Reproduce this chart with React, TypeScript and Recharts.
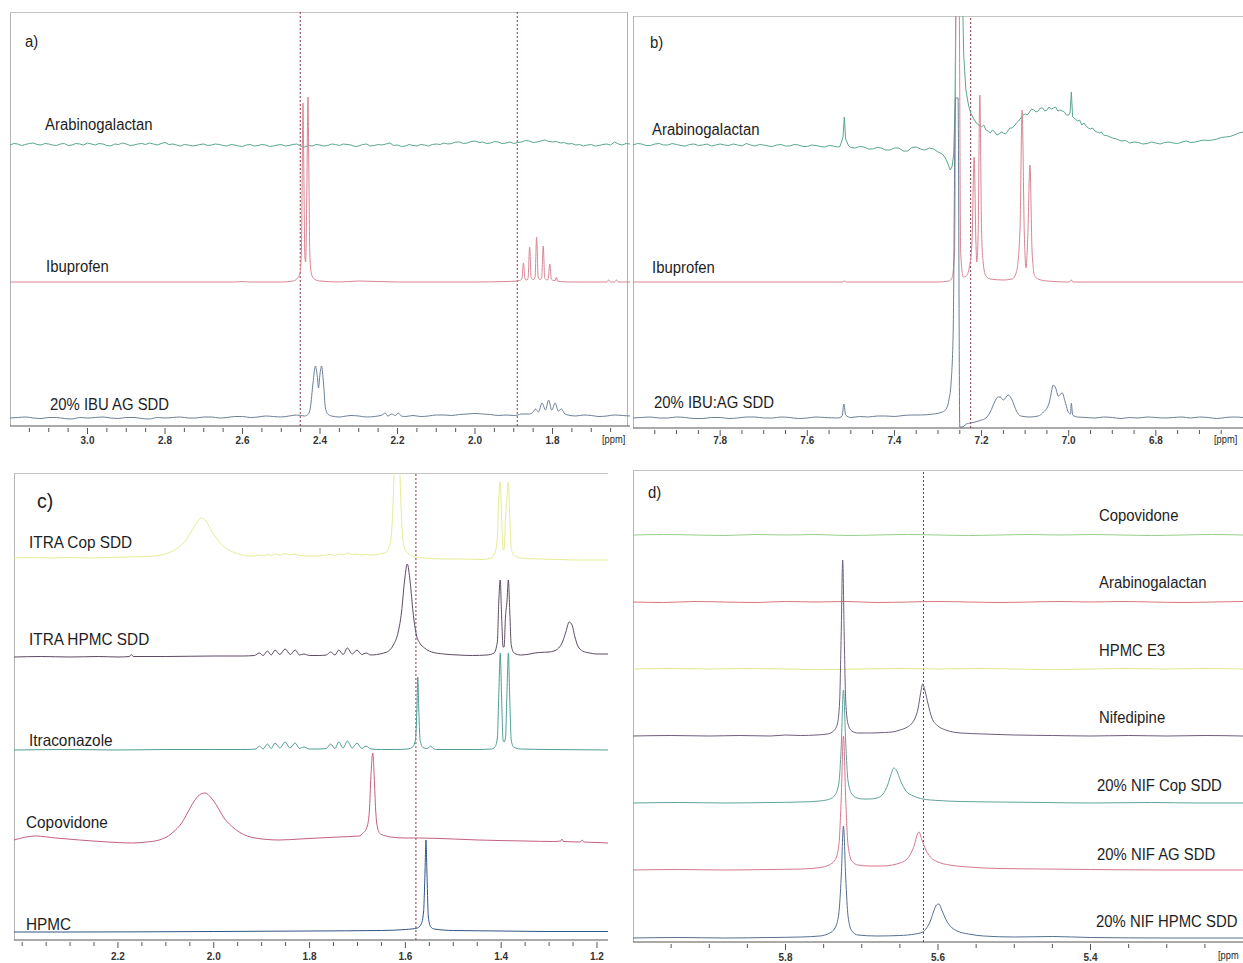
import React from "react";
import { LineChart, Line, XAxis, YAxis, ReferenceLine } from "recharts";

type Pt = [number, number]; // [ppm, intensity above the trace's own baseline]

// ---------- a) 3.2 - 1.6 ppm ----------
const A_MAJOR = [3.0, 2.8, 2.6, 2.4, 2.2, 2.0, 1.8];
const A_DASHED = [2.451, 1.891];
const A_NAMES = ["Arabinogalactan", "Ibuprofen", "20% IBU AG SDD"];
const A_OFFSETS = [281, 144, 8];
const A_AG: Pt[] = [
  [3.2, 0], [3.19, 1.5], [3.18, 1], [3.17, -0.5], [3.16, 0.5], [3.15, 1.5], [3.14, 2], [3.13, 0.5], [3.12, 0], [3.11, 1.5],
  [3.1, 1], [3.09, 0], [3.08, -0.5], [3.07, 1], [3.06, 1.5], [3.05, -0.5], [3.04, 0], [3.03, 1.5], [3.02, 1], [3.01, 0],
  [3.0, 2], [2.99, 1], [2.98, 0], [2.97, 1.5], [2.96, 1], [2.95, -0.5], [2.94, -1], [2.93, 1], [2.92, 0.5], [2.91, 2],
  [2.9, 1], [2.89, -0.5], [2.88, 0], [2.87, 1], [2.86, 1.5], [2.85, 0.5], [2.84, 2], [2.83, 1], [2.82, 0], [2.81, 1.5],
  [2.8, 2.5], [2.79, 0.5], [2.78, 1], [2.77, 0], [2.76, -1], [2.75, 0.5], [2.74, 0], [2.73, -1], [2.72, -0.5], [2.71, 0.5],
  [2.7, 1], [2.69, -0.5], [2.68, 0], [2.67, 1], [2.66, 0.5], [2.65, -0.5], [2.64, -1], [2.63, 0.5], [2.62, 0], [2.61, -1],
  [2.6, -1.5], [2.59, 0], [2.58, 0.5], [2.57, -1], [2.56, -0.5], [2.55, 0.5], [2.54, 0], [2.53, -1.5], [2.52, -1], [2.51, 0],
  [2.5, 0.5], [2.49, -1], [2.48, -0.5], [2.47, 0.5], [2.46, 1], [2.45, -1], [2.44, -2], [2.43, -0.5], [2.42, -1], [2.41, 0.5],
  [2.4, 0], [2.39, -1], [2.38, -0.5], [2.37, 1], [2.36, 0.5], [2.35, -0.5], [2.34, 1], [2.33, 0.5], [2.32, 0], [2.31, -1.5],
  [2.3, -1], [2.29, 0.5], [2.28, 1], [2.27, -1], [2.26, -0.5], [2.25, 0.5], [2.24, 0], [2.23, 1], [2.22, 2], [2.21, -0.5],
  [2.2, 0], [2.19, -1.5], [2.18, -1], [2.17, 0.5], [2.16, -0.5], [2.15, -1], [2.14, 0.5], [2.13, 0], [2.12, -1], [2.11, 0.5],
  [2.1, 1], [2.09, 0.5], [2.08, 2], [2.07, 1], [2.06, 1.5], [2.05, 3], [2.04, 3], [2.03, 1.5], [2.02, 2], [2.01, 3.5],
  [2.0, 4], [1.99, 2.5], [1.98, 3], [1.97, 1.5], [1.96, 2], [1.95, 3.5], [1.94, 3], [1.93, 1.5], [1.92, 2], [1.91, 3],
  [1.9, 1.5], [1.89, 2.5], [1.88, 3], [1.87, 4.5], [1.86, 4], [1.85, 2.5], [1.84, 3], [1.83, 4], [1.82, 5], [1.81, 3.5],
  [1.8, 3], [1.79, 3.5], [1.78, 2], [1.77, 2.5], [1.76, 1], [1.75, 1.5], [1.74, 0], [1.73, 0.5], [1.72, -1], [1.71, 0],
  [1.7, 0.5], [1.69, -1], [1.68, -0.5], [1.67, 0.5], [1.66, 1], [1.65, 0], [1.64, 3], [1.63, 1], [1.62, 0], [1.61, 1.5], [1.6, 1],
];
const A_IBU: Pt[] = [
  [3.2, 0], [2.62, 0], [2.6, 0.5], [2.58, 0], [2.5, 0], [2.47, 1], [2.46, 3], [2.452, 8], [2.448, 30], [2.445, 150],
  [2.444, 179], [2.442, 120], [2.439, 25], [2.437, 20], [2.434, 90], [2.431, 185], [2.429, 120], [2.426, 25], [2.422, 8],
  [2.415, 3], [2.4, 1], [2.35, 0], [2.3, 1], [2.2, 0], [2.0, 0], [1.92, 0.5], [1.89, 1], [1.885, 1.5],
  [1.879, 3], [1.875, 19], [1.871, 3], [1.866, 2], [1.863, 4], [1.859, 35], [1.855, 4], [1.849, 2.5], [1.845, 5],
  [1.841, 45], [1.837, 5], [1.832, 2.5], [1.828, 4], [1.824, 36], [1.82, 4], [1.814, 2], [1.811, 3], [1.807, 18],
  [1.803, 3], [1.797, 1.5], [1.793, 1.5], [1.79, 5], [1.787, 1], [1.78, 0.5], [1.75, 0], [1.7, 0], [1.66, 0],
  [1.655, 2], [1.65, 0], [1.64, 0], [1.635, 2], [1.63, 0], [1.6, 0],
];
const A_SDD: Pt[] = [
  [3.2, 0], [3.18, 0.5], [3.16, 1], [3.14, 0], [3.12, -0.5], [3.1, 0.5], [3.08, 0.5], [3.06, -0.5], [3.04, -1], [3.02, 0.5],
  [3.0, 0], [2.98, 0.5], [2.96, 1], [2.94, 0], [2.92, -0.5], [2.9, 0.5], [2.88, 0.5], [2.86, -0.5], [2.84, -1], [2.82, 0.5],
  [2.8, 0], [2.78, 0.5], [2.76, 1], [2.74, 0], [2.72, 0], [2.7, 1], [2.68, 1], [2.66, 0], [2.64, 0.5], [2.62, 1.5],
  [2.6, 1.5], [2.58, 0.5], [2.56, 1], [2.54, 2], [2.52, 1.5], [2.5, 1], [2.48, 2], [2.46, 3],
  [2.44, 2], [2.43, 4], [2.425, 10], [2.418, 35], [2.412, 52], [2.406, 38], [2.404, 30], [2.4, 44], [2.396, 52],
  [2.391, 35], [2.386, 10], [2.38, 4], [2.37, 2], [2.35, 1], [2.34, 1.5], [2.32, 2.5], [2.3, 2], [2.28, 1], [2.26, 1.5],
  [2.24, 3], [2.232, 5], [2.225, 2], [2.215, 4], [2.205, 2.5], [2.198, 5], [2.19, 2], [2.18, 1.5], [2.16, 2.5], [2.14, 1.5],
  [2.12, 2], [2.1, 3], [2.08, 3], [2.06, 2.5], [2.04, 3.5], [2.02, 4], [2.0, 4.5], [1.98, 4], [1.96, 3.5], [1.94, 2.5],
  [1.92, 3], [1.9, 2.5], [1.89, 3], [1.88, 4], [1.86, 4], [1.85, 6], [1.844, 9], [1.836, 6], [1.827, 15], [1.818, 8], [1.81, 18],
  [1.802, 8], [1.793, 15], [1.785, 7], [1.777, 9], [1.768, 4], [1.76, 3], [1.74, 2], [1.72, 3], [1.7, 2.5], [1.68, 1.5],
  [1.66, 2], [1.64, 3], [1.62, 2.5], [1.6, 2],
];

// ---------- b) 8.0 - 6.6 ppm ----------
const B_MAJOR = [7.8, 7.6, 7.4, 7.2, 7.0, 6.8];
const B_DASHED = [7.225];
const B_NAMES = ["Arabinogalactan", "Ibuprofen", "20% IBU:AG SDD"];
const B_OFFSETS = [283, 146, 10];
const B_AG: Pt[] = [
  [8.0, 0], [7.99, 1.5], [7.98, 1], [7.97, -0.5], [7.96, -0.5], [7.95, 1], [7.94, 1.5], [7.93, 0], [7.92, 0], [7.91, 1.5],
  [7.9, 0.5], [7.89, -0.5], [7.88, -1], [7.87, 0.5], [7.86, 1], [7.85, -0.5], [7.84, 0], [7.83, 1], [7.82, -1], [7.81, 0],
  [7.8, 1], [7.79, 0], [7.78, -0.5], [7.77, 1], [7.76, 0], [7.75, -1], [7.74, 1.5], [7.73, 0], [7.72, -1], [7.71, 0.5],
  [7.7, 0], [7.69, -1], [7.68, -1.5], [7.67, 0], [7.66, 0.5], [7.65, -1], [7.64, -1], [7.63, 0.5], [7.62, 0], [7.61, -1.5],
  [7.6, -1.5], [7.59, 0], [7.58, -0.5], [7.57, -1.5], [7.56, -2], [7.55, -0.5], [7.54, -1], [7.53, -2], [7.525, -1.5],
  [7.518, 8], [7.515, 28], [7.512, 6], [7.505, -1], [7.5, -2.5], [7.49, -3], [7.48, -1.5], [7.47, -2], [7.46, -4],
  [7.45, -4], [7.44, -2.5], [7.43, -3], [7.42, -5], [7.41, -5], [7.4, -3], [7.39, -3], [7.38, -6], [7.37, -6], [7.36, -2.5],
  [7.35, -2], [7.34, -4], [7.33, -5], [7.32, -3], [7.31, -4], [7.3, -7], [7.29, -9], [7.283, -13], [7.277, -19],
  [7.272, -25], [7.268, -22], [7.264, -10], [7.261, 40], [7.258, 200],
  [7.255, 320], [7.25, 320], [7.246, 200], [7.241, 90], [7.236, 55], [7.23, 40], [7.225, 32], [7.218, 26], [7.21, 21],
  [7.2, 18], [7.195, 20], [7.19, 15], [7.185, 14], [7.18, 12], [7.175, 15], [7.17, 13], [7.165, 10], [7.16, 11],
  [7.155, 13], [7.15, 12], [7.145, 11], [7.14, 14], [7.135, 17], [7.13, 17], [7.125, 19], [7.12, 22], [7.115, 24],
  [7.11, 27], [7.105, 30], [7.1, 31], [7.095, 30], [7.09, 33], [7.085, 36], [7.08, 35], [7.075, 33], [7.07, 34],
  [7.065, 37], [7.06, 37], [7.055, 34], [7.05, 35], [7.045, 38], [7.04, 36], [7.035, 37], [7.03, 38], [7.025, 34],
  [7.02, 35], [7.015, 34], [7.01, 33], [7.005, 30], [7.0, 30], [6.997, 32], [6.994, 53], [6.991, 28], [6.985, 26],
  [6.98, 24], [6.975, 25], [6.97, 20], [6.965, 22], [6.96, 19], [6.955, 17], [6.95, 16], [6.945, 17], [6.94, 14],
  [6.93, 12], [6.925, 13], [6.92, 10], [6.91, 9], [6.9, 7], [6.89, 6], [6.88, 4], [6.87, 4.5], [6.86, 2], [6.85, 3],
  [6.84, 2.5], [6.83, 1], [6.82, 1.5], [6.81, 3], [6.8, 2], [6.79, 1], [6.78, 2.5], [6.77, 3], [6.76, 2], [6.75, 1.5],
  [6.74, 3], [6.73, 4], [6.72, 2.5], [6.71, 3], [6.7, 4], [6.69, 5], [6.68, 4.5], [6.67, 5], [6.66, 6], [6.65, 7.5],
  [6.64, 8], [6.63, 8.5], [6.62, 10], [6.61, 12], [6.6, 13],
];
const B_IBU: Pt[] = [
  [8.0, 0], [7.52, 0], [7.515, 1], [7.51, 0], [7.3, 0], [7.275, 1], [7.268, 4], [7.262, 30], [7.258, 320], [7.252, 320],
  [7.248, 30], [7.242, 5], [7.235, 6], [7.228, 15], [7.222, 40], [7.217, 125], [7.213, 40], [7.211, 20], [7.208, 45],
  [7.204, 187], [7.2, 50], [7.196, 18], [7.19, 6], [7.18, 3], [7.15, 2], [7.13, 3], [7.12, 10], [7.112, 50], [7.107, 172],
  [7.102, 50], [7.098, 14], [7.094, 45], [7.089, 117], [7.084, 30], [7.078, 6], [7.07, 3], [7.05, 1], [7.0, 0],
  [6.994, 2], [6.99, 0], [6.6, 0],
];
const B_SDD: Pt[] = [
  [8.0, 0], [7.98, 0.5], [7.96, 1], [7.94, 0], [7.92, 0], [7.9, 1], [7.88, 0.5], [7.86, -0.5], [7.84, -0.5], [7.82, 0.5],
  [7.8, 0.5], [7.78, -0.5], [7.76, 0], [7.74, 1], [7.72, 1], [7.7, 0], [7.68, 0], [7.66, 1], [7.64, 0.5], [7.62, -0.5],
  [7.6, 0], [7.58, 1], [7.56, 0.5], [7.53, 0], [7.52, 2], [7.516, 14], [7.512, 3], [7.5, 0.5], [7.48, 1.5], [7.46, 1],
  [7.44, 2], [7.42, 2], [7.4, 1.5], [7.38, 2.5], [7.36, 3], [7.34, 3], [7.32, 3.5], [7.31, 4], [7.29, 6], [7.28, 10],
  [7.275, 18], [7.27, 35], [7.265, 90], [7.26, 320], [7.254, 320],
  [7.25, -9], [7.245, -9], [7.24, -8], [7.235, -6], [7.225, -5], [7.215, -4], [7.2, -2], [7.19, 0], [7.18, 6], [7.17, 16],
  [7.162, 21], [7.157, 21], [7.15, 18], [7.139, 23], [7.13, 18], [7.12, 7], [7.11, 2], [7.09, 1], [7.07, 2], [7.06, 5],
  [7.045, 15], [7.035, 33], [7.03, 30], [7.024, 22], [7.015, 25], [7.008, 16], [7.0, 5], [6.996, 4], [6.994, 15],
  [6.991, 3], [6.98, 1], [6.96, 0.5], [6.94, 0], [6.92, 1], [6.9, 0.5], [6.88, -0.5], [6.86, 0.5], [6.84, 0], [6.82, 1],
  [6.8, 0.5], [6.78, 0], [6.76, 0.5], [6.74, 1], [6.72, 0], [6.7, 1], [6.68, 0.5], [6.66, -0.5], [6.64, 0.5], [6.62, 1], [6.6, 0.5],
];

// ---------- c) 2.42 - 1.18 ppm ----------
const C_MAJOR = [2.2, 2.0, 1.8, 1.6, 1.4, 1.2];
const C_DASHED = [1.578];
const C_NAMES = ["ITRA Cop SDD", "ITRA HPMC SDD", "Itraconazole", "Copovidone", "HPMC"];
const C_OFFSETS = [382, 283, 190, 100, 8];
const C_ITRA_COP: Pt[] = [
  [2.417, 0], [2.38, 0.5], [2.34, 0], [2.3, 0.5], [2.26, 0], [2.22, 0.5], [2.18, 1], [2.14, 1.5], [2.11, 3], [2.09, 6],
  [2.07, 12], [2.055, 20], [2.045, 28], [2.035, 36], [2.026, 40], [2.018, 38], [2.008, 30], [1.995, 20], [1.98, 12],
  [1.96, 6], [1.94, 3], [1.92, 2], [1.905, 3], [1.895, 2], [1.888, 3.5], [1.878, 2.5], [1.872, 4], [1.862, 3],
  [1.851, 4.5], [1.84, 3], [1.83, 4], [1.82, 2.5], [1.8, 2], [1.78, 2], [1.756, 3.5], [1.748, 2.5], [1.739, 4],
  [1.73, 3], [1.721, 5], [1.711, 3.5], [1.701, 4], [1.69, 3], [1.682, 3.5], [1.67, 3], [1.655, 4], [1.64, 6],
  [1.635, 10], [1.63, 20], [1.626, 50], [1.622, 110], [1.618, 140], [1.613, 110], [1.609, 50], [1.605, 18], [1.6, 8],
  [1.59, 3], [1.58, 1], [1.56, 0], [1.52, -1], [1.48, -1], [1.44, -1.5], [1.42, 0], [1.413, 5], [1.408, 20],
  [1.405, 60], [1.402, 76], [1.399, 40], [1.396, 8], [1.394, 8], [1.391, 40], [1.388, 60], [1.385, 76], [1.382, 40],
  [1.379, 10], [1.374, 3], [1.36, 0], [1.32, -1], [1.28, -1.5], [1.24, -2], [1.2, -2], [1.177, -2],
];
const C_ITRA_HPMC: Pt[] = [
  [2.417, 0], [2.36, 0.5], [2.3, 0], [2.24, 0.5], [2.2, 0], [2.176, 0.5], [2.172, 2.5], [2.168, 0.5], [2.1, 0.5],
  [2.0, 1], [1.94, 1], [1.915, 1.5], [1.905, 4], [1.897, 1.5], [1.888, 6], [1.88, 2], [1.872, 7], [1.862, 2.5],
  [1.851, 8], [1.84, 2.5], [1.83, 7], [1.821, 2], [1.812, 3], [1.8, 1.5], [1.78, 1.5], [1.765, 2], [1.756, 5],
  [1.747, 2], [1.739, 7], [1.73, 2.5], [1.721, 9], [1.711, 3], [1.701, 7], [1.691, 2.5], [1.682, 4], [1.672, 2],
  [1.66, 2.5], [1.645, 4], [1.635, 6], [1.625, 12], [1.615, 25], [1.608, 45], [1.602, 75], [1.596, 93], [1.59, 75],
  [1.584, 45], [1.577, 22], [1.57, 14], [1.56, 9], [1.545, 5], [1.52, 3], [1.49, 2], [1.46, 1.5], [1.43, 2],
  [1.415, 4], [1.408, 15], [1.405, 55], [1.402, 77], [1.399, 40], [1.396, 10], [1.394, 10], [1.391, 40], [1.388, 55],
  [1.385, 77], [1.382, 45], [1.379, 12], [1.373, 4], [1.36, 2], [1.34, 3], [1.33, 4], [1.32, 4.5], [1.3, 5],
  [1.29, 6], [1.28, 9], [1.272, 15], [1.265, 25], [1.258, 35], [1.252, 32], [1.246, 20], [1.24, 11], [1.23, 6],
  [1.215, 4], [1.2, 3], [1.177, 3],
];
const C_ITRA: Pt[] = [
  [2.417, 0], [2.3, 0.5], [2.2, 0], [2.1, 0.5], [2.0, 0.5], [1.93, 0.5], [1.912, 1], [1.905, 4], [1.897, 1],
  [1.888, 6], [1.88, 1.5], [1.872, 7], [1.862, 2], [1.851, 8], [1.841, 2], [1.83, 7], [1.821, 1.5], [1.812, 3],
  [1.8, 1], [1.78, 1], [1.765, 1.5], [1.756, 6], [1.747, 1.5], [1.739, 8], [1.73, 2], [1.721, 9], [1.711, 2],
  [1.701, 7], [1.691, 1.5], [1.682, 4], [1.672, 1], [1.65, 0.5], [1.62, 0.5], [1.595, 1], [1.585, 3], [1.579, 10],
  [1.576, 40], [1.574, 73], [1.572, 40], [1.569, 9], [1.563, 2.5], [1.555, 1.5], [1.55, 3], [1.547, 4], [1.543, 2],
  [1.535, 0.5], [1.45, 0.5], [1.42, 1], [1.413, 3], [1.408, 12], [1.405, 55], [1.402, 97], [1.399, 50], [1.396, 10],
  [1.394, 8], [1.391, 12], [1.388, 55], [1.385, 97], [1.382, 50], [1.379, 10], [1.374, 3], [1.36, 1], [1.3, 0.5], [1.177, 0],
];
const C_COP: Pt[] = [
  [2.417, 0], [2.372, 4], [2.33, 2], [2.28, 0], [2.22, -2], [2.172, -3], [2.14, -2], [2.114, 0], [2.095, 4],
  [2.08, 10], [2.067, 17], [2.055, 27], [2.042, 38], [2.03, 45], [2.018, 47], [2.005, 42], [1.992, 33], [1.98, 23],
  [1.963, 14], [1.947, 8], [1.93, 4], [1.914, 2], [1.864, 0], [1.82, 1], [1.781, 2], [1.74, 3], [1.697, 4],
  [1.688, 7], [1.68, 13], [1.675, 30], [1.672, 63], [1.668, 87], [1.665, 63], [1.662, 30], [1.658, 12], [1.652, 6],
  [1.64, 4], [1.631, 3], [1.6, 2], [1.572, 2], [1.5, 1], [1.447, 0], [1.35, -1], [1.29, -1.5], [1.276, -1],
  [1.273, 1], [1.27, -1.5], [1.235, -2], [1.231, 0], [1.227, -2], [1.2, -2.5], [1.177, -3],
];
const C_HPMC: Pt[] = [
  [2.417, 0], [2.3, 0], [2.0, 0.5], [1.8, 1], [1.65, 1.5], [1.6, 2.5], [1.575, 4], [1.567, 8], [1.562, 20],
  [1.559, 60], [1.557, 92], [1.555, 60], [1.552, 15], [1.547, 5], [1.54, 3], [1.5, 1.5], [1.4, 1], [1.3, 0.5], [1.177, 0.5],
];

// ---------- d) 6.0 - 5.2 ppm ----------
const D_MAJOR = [5.8, 5.6, 5.4];
const D_DASHED = [5.619];
const D_NAMES = ["Copovidone", "Arabinogalactan", "HPMC E3", "Nifedipine", "20% NIF Cop SDD", "20% NIF AG SDD", "20% NIF HPMC SDD"];
const D_OFFSETS = [407, 340, 273, 206, 139, 72, 4];
const D_COP: Pt[] = [
  [6.0, 0], [5.96, 0.5], [5.92, 0], [5.88, -0.5], [5.84, 0.5], [5.8, 0], [5.76, 0.5], [5.72, -0.5], [5.68, 0], [5.64, 0.5],
  [5.6, 0], [5.56, -0.5], [5.52, 0], [5.48, 0.5], [5.44, 0], [5.4, 0.5], [5.36, 0], [5.32, -0.5], [5.28, 0], [5.24, 0.5], [5.2, 0],
];
const D_AG: Pt[] = [
  [6.0, 0], [5.96, -0.5], [5.92, 0.5], [5.88, 0], [5.84, -0.5], [5.8, 0.5], [5.76, 0], [5.72, 0.5], [5.68, -0.5], [5.64, 0],
  [5.6, 0.5], [5.56, 0], [5.52, -0.5], [5.48, 0], [5.44, 0.5], [5.4, 0], [5.36, 0.5], [5.32, 0], [5.28, -0.5], [5.24, 0], [5.2, 0.5],
];
const D_HPMC: Pt[] = [
  [6.0, 0], [5.95, 0.5], [5.9, 0], [5.85, 0.5], [5.8, 0], [5.75, -0.5], [5.7, 0], [5.65, 0.5], [5.6, 0], [5.55, 0.5],
  [5.5, 0], [5.45, -0.5], [5.4, 0], [5.35, 0.5], [5.3, 0], [5.25, 0.5], [5.2, 0],
];
const D_NIF: Pt[] = [
  [6.0, 0], [5.95, 0.5], [5.9, 0], [5.86, 0.5], [5.82, 0], [5.8, 1], [5.78, 0.5], [5.76, 1], [5.745, 2], [5.737, 5],
  [5.732, 12], [5.729, 35], [5.727, 100], [5.725, 176], [5.723, 100], [5.721, 35], [5.718, 12], [5.713, 5], [5.705, 3],
  [5.69, 3], [5.67, 3.5], [5.66, 4], [5.65, 6], [5.64, 9], [5.635, 12], [5.63, 18], [5.626, 28], [5.623, 42],
  [5.62, 52], [5.617, 45], [5.613, 32], [5.608, 18], [5.6, 10], [5.59, 6], [5.57, 3], [5.54, 2], [5.5, 1], [5.45, 0.5],
  [5.4, 0], [5.35, 0.5], [5.3, 0], [5.25, 0.5], [5.2, 0],
];
const D_NIF_COP: Pt[] = [
  [6.0, 0], [5.94, 0.5], [5.88, 0], [5.82, 0.5], [5.78, 1], [5.755, 2], [5.742, 4], [5.735, 8], [5.73, 20], [5.727, 55],
  [5.724, 113], [5.721, 60], [5.718, 22], [5.713, 9], [5.706, 5], [5.698, 4], [5.69, 4], [5.68, 5], [5.672, 9],
  [5.666, 18], [5.661, 30], [5.658, 35], [5.654, 32], [5.649, 22], [5.642, 12], [5.632, 7], [5.62, 4], [5.6, 2.5],
  [5.57, 1.5], [5.52, 1], [5.46, 0.5], [5.4, 0], [5.32, 0.5], [5.26, 0], [5.2, 0],
];
const D_NIF_AG: Pt[] = [
  [6.0, 0], [5.94, 0.5], [5.88, 0], [5.82, 0.5], [5.78, 1], [5.755, 2.5], [5.743, 5], [5.735, 10], [5.73, 25], [5.727, 70],
  [5.724, 134], [5.721, 70], [5.718, 25], [5.713, 9], [5.705, 5], [5.69, 4], [5.67, 4], [5.66, 5], [5.65, 7],
  [5.642, 10], [5.636, 16], [5.631, 25], [5.627, 36], [5.625, 38], [5.621, 30], [5.616, 20], [5.61, 13], [5.6, 8],
  [5.585, 5], [5.56, 3], [5.52, 1.5], [5.46, 1], [5.4, 0.5], [5.3, 0], [5.2, 0],
];
const D_NIF_HPMC: Pt[] = [
  [6.0, 0], [5.94, 0.5], [5.88, 0], [5.82, 0.5], [5.78, 1], [5.755, 2], [5.742, 5], [5.735, 10], [5.73, 25], [5.727, 60],
  [5.724, 112], [5.721, 60], [5.718, 22], [5.713, 7], [5.705, 3], [5.68, 2], [5.65, 2.5], [5.63, 4], [5.62, 6],
  [5.615, 10], [5.61, 17], [5.606, 26], [5.602, 33], [5.599, 34], [5.595, 28], [5.59, 19], [5.584, 12], [5.575, 7],
  [5.56, 4], [5.54, 2], [5.5, 1], [5.45, 1.5], [5.4, 0.5], [5.3, 0], [5.2, 0],
];

// minor ticks every 0.05 ppm, majors get a label
function ppmTicks(from: number, to: number) {
  const out: number[] = [];
  for (let v = Math.round(from * 100); v >= Math.round(to * 100); v -= 5) out.push(v / 100);
  return out;
}

const FONT = "'Liberation Sans', Arial, Helvetica, sans-serif";
const DASH = "#8e3346";

function PpmTick(props: any) {
  const { x, y, payload, majors, dy } = props;
  const v = payload.value as number;
  const major = majors.some((m: number) => Math.abs(m - v) < 1e-6);
  return (
    <g>
      <line x1={x} x2={x} y1={y} y2={y + (major ? 6 : 4)} stroke="#555" strokeWidth={1} />
      {major && (
        <text x={x} y={y + dy} textAnchor="middle" fontSize={10} fontWeight="bold" fill="#333" fontFamily={FONT}>
          {v.toFixed(1)}
        </text>
      )}
    </g>
  );
}

type Trace = { name: string; pts: Pt[]; offset: number; color: string; noisy?: boolean };

type PanelProps = {
  left: number;
  top: number;
  width: number;
  height: number;
  margin: { top: number; right: number; bottom: number; left: number };
  axisH: number;
  domain: [number, number];
  plotH: number;
  traces: Trace[];
  majors: number[];
  ticks: number[];
  dashed: number[];
  labelDy: number;
};

function Spectrum(p: PanelProps) {
  return (
    <div style={{ position: "absolute", left: p.left, top: p.top }}>
      <LineChart width={p.width} height={p.height} margin={p.margin}>
        <XAxis
          type="number"
          dataKey="x"
          domain={p.domain}
          reversed
          allowDataOverflow
          ticks={p.ticks}
          interval={0}
          tickSize={0}
          tickLine={false}
          axisLine={{ stroke: "#555" }}
          height={p.axisH}
          tick={<PpmTick majors={p.majors} dy={p.labelDy} />}
        />
        <YAxis type="number" hide domain={[0, p.plotH]} allowDataOverflow />
        {p.dashed.map((d) => (
          <ReferenceLine key={d} x={d} stroke={DASH} strokeWidth={1} strokeDasharray="2 2" />
        ))}
        {p.traces.map((t) => (
          <Line
            key={t.name}
            data={t.pts.map(([x, y]) => ({ x, y: y + t.offset }))}
            dataKey="y"
            type={t.noisy ? "linear" : "monotoneX"}
            stroke={t.color}
            strokeWidth={1}
            dot={false}
            activeDot={false}
            isAnimationActive={false}
          />
        ))}
      </LineChart>
    </div>
  );
}

function Label({ text, x, y, size = 16 }: { text: string; x: number; y: number; size?: number }) {
  return (
    <div
      style={{
        position: "absolute",
        left: x,
        top: y,
        fontSize: size,
        lineHeight: 1,
        whiteSpace: "nowrap",
        color: "#1e1e1e",
        transform: "translateY(-50%) scaleX(0.93)",
        transformOrigin: "left center",
      }}
    >
      {text}
    </div>
  );
}

function Frame({ x, y, w, h, right }: { x: number; y: number; w: number; h: number; right?: boolean }) {
  return (
    <div
      style={{
        position: "absolute",
        left: x,
        top: y,
        width: w,
        height: h,
        borderLeft: "1px solid #b4b4b4",
        borderTop: "1px solid #c4c4c4",
        borderRight: right ? "1px solid #b4b4b4" : "none",
        boxSizing: "border-box",
      }}
    />
  );
}

const mk = (names: string[], pts: Pt[][], offsets: number[], colors: string[], noisy: boolean[] = []): Trace[] =>
  names.map((name, i) => ({ name, pts: pts[i], offset: offsets[i], color: colors[i], noisy: noisy[i] }));

export default function App() {
  const aTraces = mk(A_NAMES, [A_AG, A_IBU, A_SDD], A_OFFSETS, ["#5aa88a", "#d98595", "#6d7f96"], [true, false, false]);
  const bTraces = mk(B_NAMES, [B_AG, B_IBU, B_SDD], B_OFFSETS, ["#5aa88a", "#d98595", "#6d7f96"], [true, false, false]);
  const cTraces = mk(
    C_NAMES,
    [C_ITRA_COP, C_ITRA_HPMC, C_ITRA, C_COP, C_HPMC],
    C_OFFSETS,
    ["#e6ec95", "#5c4b63", "#4e9e95", "#c45f7c", "#2f5584"]
  );
  const dTraces = mk(
    D_NAMES,
    [D_COP, D_AG, D_HPMC, D_NIF, D_NIF_COP, D_NIF_AG, D_NIF_HPMC],
    D_OFFSETS,
    ["#96d08a", "#d9767a", "#e2e88c", "#6e5e7e", "#5fa39b", "#d6788f", "#56708e"]
  );

  return (
    <div
      style={{
        position: "absolute",
        left: 0,
        top: 0,
        width: 1243,
        height: 963,
        background: "#fff",
        fontFamily: FONT,
        overflow: "hidden",
      }}
    >
      <Frame x={10} y={12} w={618} h={414} right />
      <Frame x={633} y={16} w={610} h={412} />
      <Frame x={14} y={473} w={594} h={467} />
      <Frame x={633} y={470} w={610} h={472} />

      <Spectrum
        left={0} top={0} width={630} height={460}
        margin={{ top: 12, right: 0, bottom: 4, left: 10 }} axisH={30}
        domain={[1.6, 3.2]} plotH={414} traces={aTraces}
        majors={A_MAJOR} ticks={ppmTicks(3.15, 1.65)} dashed={A_DASHED} labelDy={16}
      />
      <Spectrum
        left={633} top={0} width={610} height={460}
        margin={{ top: 16, right: 0, bottom: 2, left: 0 }} axisH={30}
        domain={[6.6, 8.0]} plotH={412} traces={bTraces}
        majors={B_MAJOR} ticks={ppmTicks(7.95, 6.65)} dashed={B_DASHED} labelDy={14}
      />
      <Spectrum
        left={0} top={460} width={625} height={503}
        margin={{ top: 13, right: 17, bottom: 0, left: 14 }} axisH={23}
        domain={[1.177, 2.417]} plotH={467} traces={cTraces}
        majors={C_MAJOR} ticks={ppmTicks(2.4, 1.2)} dashed={C_DASHED} labelDy={18}
      />
      <Spectrum
        left={625} top={460} width={618} height={503}
        margin={{ top: 10, right: 0, bottom: 0, left: 8 }} axisH={21}
        domain={[5.2, 6.0]} plotH={472} traces={dTraces}
        majors={D_MAJOR} ticks={ppmTicks(5.95, 5.25)} dashed={D_DASHED} labelDy={17}
      />

      {/* panel a */}
      <Label text="a)" x={25} y={42} />
      <Label text={A_NAMES[0]} x={45} y={125} />
      <Label text={A_NAMES[1]} x={46} y={267} />
      <Label text={A_NAMES[2]} x={50} y={405} />
      <Label text="[ppm]" x={602} y={440} size={10} />

      {/* panel b */}
      <Label text="b)" x={650} y={43} />
      <Label text={B_NAMES[0]} x={652} y={130} />
      <Label text={B_NAMES[1]} x={652} y={268} />
      <Label text={B_NAMES[2]} x={654} y={403} />
      <Label text="[ppm]" x={1214} y={440} size={10} />

      {/* panel c */}
      <Label text="c)" x={37} y={500} size={21} />
      <Label text={C_NAMES[0]} x={29} y={542} size={16.5} />
      <Label text={C_NAMES[1]} x={29} y={639} size={16.5} />
      <Label text={C_NAMES[2]} x={29} y={740} size={16.5} />
      <Label text={C_NAMES[3]} x={26} y={822} size={16.5} />
      <Label text={C_NAMES[4]} x={26} y={924} size={16.5} />

      {/* panel d */}
      <Label text="d)" x={648} y={493} />
      <Label text={D_NAMES[0]} x={1099} y={516} />
      <Label text={D_NAMES[1]} x={1099} y={583} />
      <Label text={D_NAMES[2]} x={1099} y={651} />
      <Label text={D_NAMES[3]} x={1099} y={718} />
      <Label text={D_NAMES[4]} x={1097} y={786} />
      <Label text={D_NAMES[5]} x={1097} y={855} />
      <Label text={D_NAMES[6]} x={1096} y={922} />
      <Label text="[ppm" x={1218} y={956} size={10} />
    </div>
  );
}
